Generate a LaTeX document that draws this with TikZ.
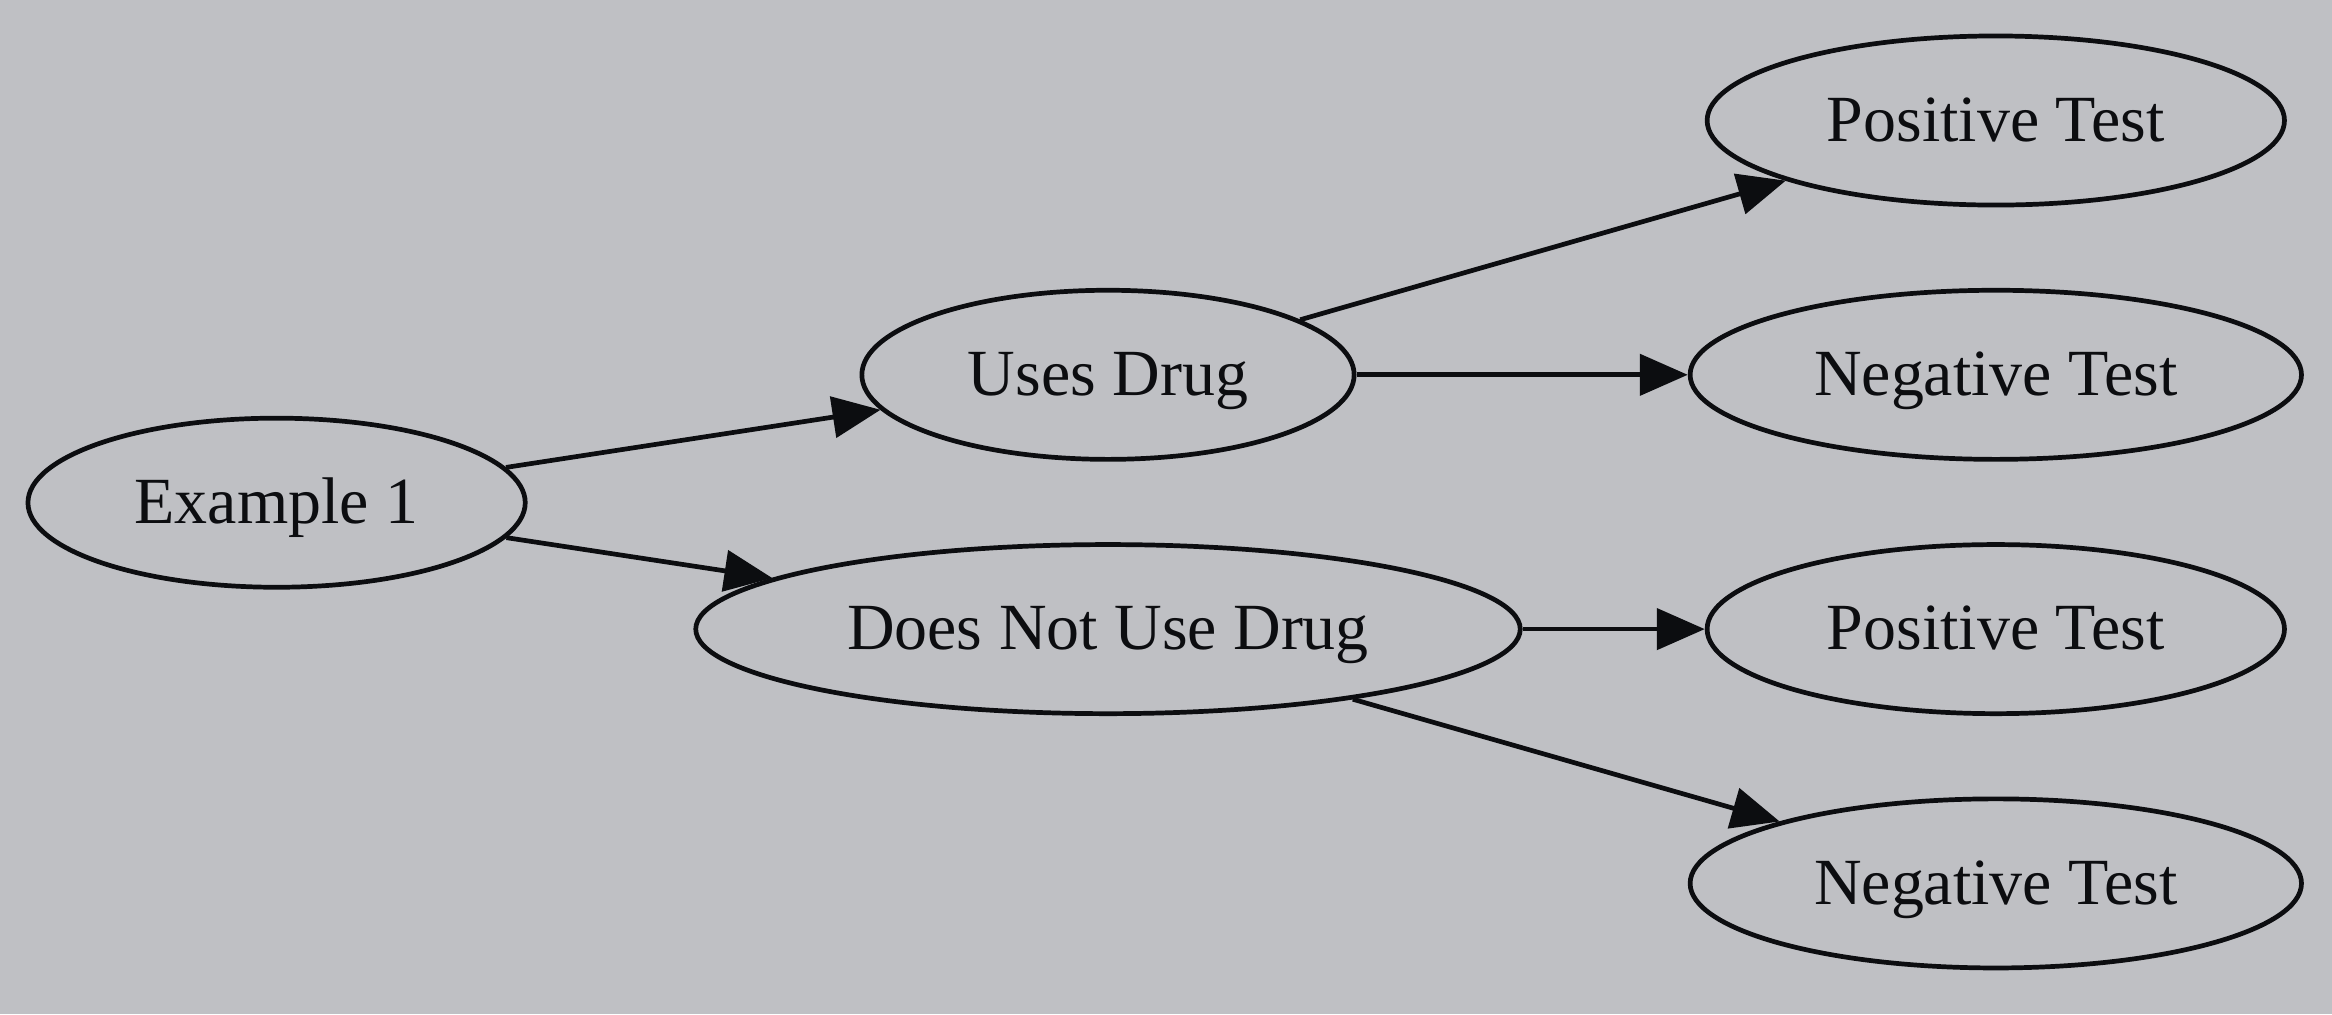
\documentclass[tikz,border=0pt]{standalone}
\usepackage{fontspec}
\setmainfont{Liberation Serif}
\usetikzlibrary{shapes.geometric,arrows.meta}
\definecolor{bg}{RGB}{191,192,196}
\definecolor{ink}{RGB}{12,13,16}
\begin{document}
\begin{tikzpicture}[x=0.01cm,y=-0.01cm,
  every node/.style={font=\fontsize{18.75pt}{22pt}\selectfont, text=ink},
  ell/.style={ellipse, draw=ink, line width=1.34pt, inner sep=0pt,
    minimum height=1.69cm, text height=0.662em+5.1pt, text depth=0pt},
  edge/.style={draw=ink, line width=1.34pt,
    -{Triangle[length=0.48cm,width=0.41cm]}}]
\fill[bg] (0,0) rectangle (2332,1014);
\useasboundingbox (0,0) rectangle (2332,1014);
\node[ell, minimum width=4.97cm] (e1) at (276.6,502.7) {Example 1};
\node[ell, minimum width=4.92cm] (use) at (1108,374.8) {Uses Drug};
\node[ell, minimum width=8.24cm] (nuse) at (1108,629.1) {Does Not Use Drug};
\node[ell, minimum width=5.77cm] (p1) at (1995.8,120.5) {Positive Test};
\node[ell, minimum width=6.11cm] (n1) at (1995.8,374.8) {Negative Test};
\node[ell, minimum width=5.77cm] (p2) at (1995.8,629.1) {Positive Test};
\node[ell, minimum width=6.11cm] (n2) at (1995.8,883.4) {Negative Test};
\draw[edge] (e1) -- (use);
\draw[edge] (e1) -- (nuse);
\draw[edge] (use) -- (p1);
\draw[edge] (use) -- (n1);
\draw[edge] (nuse) -- (p2);
\draw[edge] (nuse) -- (n2);
\end{tikzpicture}
\end{document}
